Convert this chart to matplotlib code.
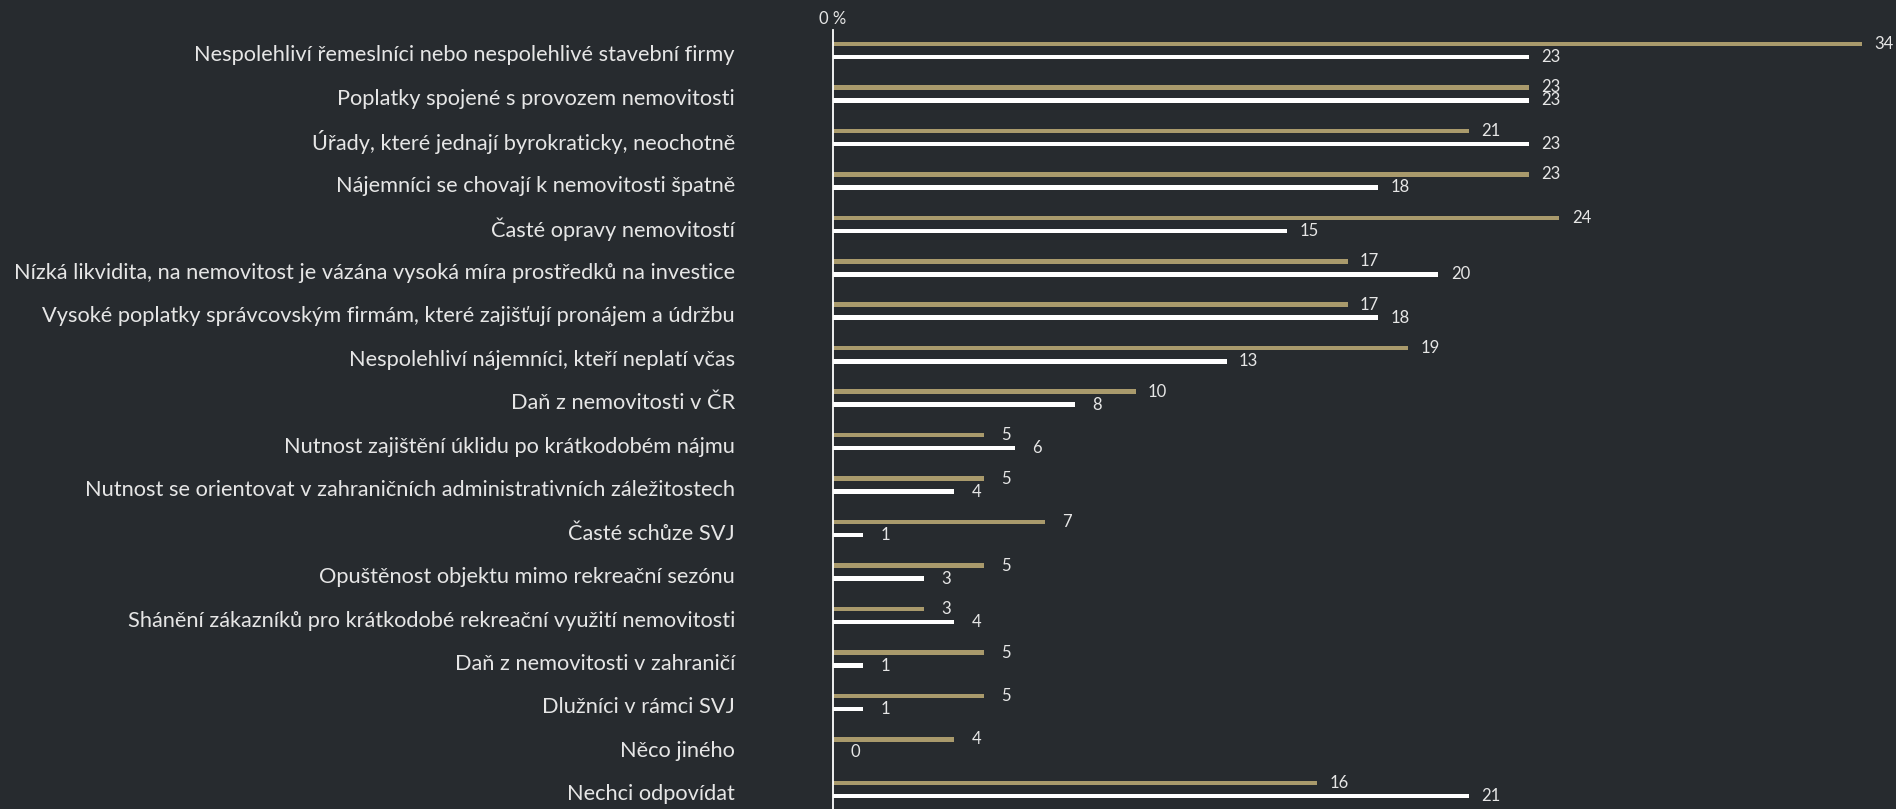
import matplotlib
matplotlib.use("Agg")
import matplotlib.pyplot as plt
from matplotlib.transforms import offset_copy, blended_transform_factory
import numpy as np

categories = [
    "Nespolehliví řemeslníci nebo nespolehlivé stavební firmy",
    "Poplatky spojené s provozem nemovitosti",
    "Úřady, které jednají byrokraticky, neochotně",
    "Nájemníci se chovají k nemovitosti špatně",
    "Časté opravy nemovitostí",
    "Nízká likvidita, na nemovitost je vázána vysoká míra prostředků na investice",
    "Vysoké poplatky správcovským firmám, které zajišťují pronájem a údržbu",
    "Nespolehliví nájemníci, kteří neplatí včas",
    "Daň z nemovitosti v ČR",
    "Nutnost zajištění úklidu po krátkodobém nájmu",
    "Nutnost se orientovat v zahraničních administrativních záležitostech",
    "Časté schůze SVJ",
    "Opuštěnost objektu mimo rekreační sezónu",
    "Shánění zákazníků pro krátkodobé rekreační využití nemovitosti",
    "Daň z nemovitosti v zahraničí",
    "Dlužníci v rámci SVJ",
    "Něco jiného",
    "Nechci odpovídat",
]
series_gold = [34, 23, 21, 23, 24, 17, 17, 19, 10, 5, 5, 7, 5, 3, 5, 5, 4, 16]
series_white = [23, 23, 23, 18, 15, 20, 18, 13, 8, 6, 4, 1, 3, 4, 1, 1, 0, 21]

BG = "#272b2f"
GOLD = "#a99a6c"
WHITE = "#ffffff"
TXT = "#e6e6e6"

plt.rcParams['font.family'] = ['Lato', 'DejaVu Sans']

W, H = 1896, 809
fig = plt.figure(figsize=(W / 100, H / 100), dpi=100, facecolor=BG)
ax_left = 833 / W
ax_top = 30
ax = fig.add_axes([ax_left, 0, 1 - ax_left, (H - ax_top) / H], facecolor=BG)

n = len(categories)
y = np.arange(n)
off = 0.15
bh = 0.105
ax.barh(y - off, series_gold, height=bh, color=GOLD, zorder=2)
ax.barh(y + off, series_white, height=bh, color=WHITE, zorder=2)

xmax = (W - 833) / 30.27
ax.set_xlim(0, xmax)
ax.set_ylim(n - 1 + 0.45, -0.47)

tr = offset_copy(ax.transData, fig=fig, x=22, y=0, units='dots')
for i in range(n):
    ax.text(series_gold[i], y[i] - off, str(series_gold[i]), transform=tr,
            ha='center', va='center', color=TXT, fontsize=12)
    ax.text(series_white[i], y[i] + off, str(series_white[i]), transform=tr,
            ha='center', va='center', color=TXT, fontsize=12)

for s in ['top', 'right', 'bottom']:
    ax.spines[s].set_visible(False)
ax.spines['left'].set_color(WHITE)
ax.spines['left'].set_linewidth(1.3)
ax.set_xticks([])
ax.set_yticks([])

# category labels, sized so the longest one spans the reference width
fig.canvas.draw()
renderer = fig.canvas.get_renderer()
longest = max(categories, key=len)
probe = fig.text(0, 0, longest, fontsize=16)
wpx = probe.get_window_extent(renderer).width
probe.remove()
fs = 16 * 725 / wpx

ltr = offset_copy(blended_transform_factory(ax.transAxes, ax.transData),
                  fig=fig, x=-98, y=-5, units='dots')
for i, c in enumerate(categories):
    ax.text(0, y[i], c, transform=ltr, ha='right', va='center',
            color=TXT, fontsize=fs)

fig.text(833 / W, 1 - 19 / H, "0 %", ha='center', va='center', color=TXT, fontsize=12)

fig.savefig("out.png", dpi=100, facecolor=BG)
